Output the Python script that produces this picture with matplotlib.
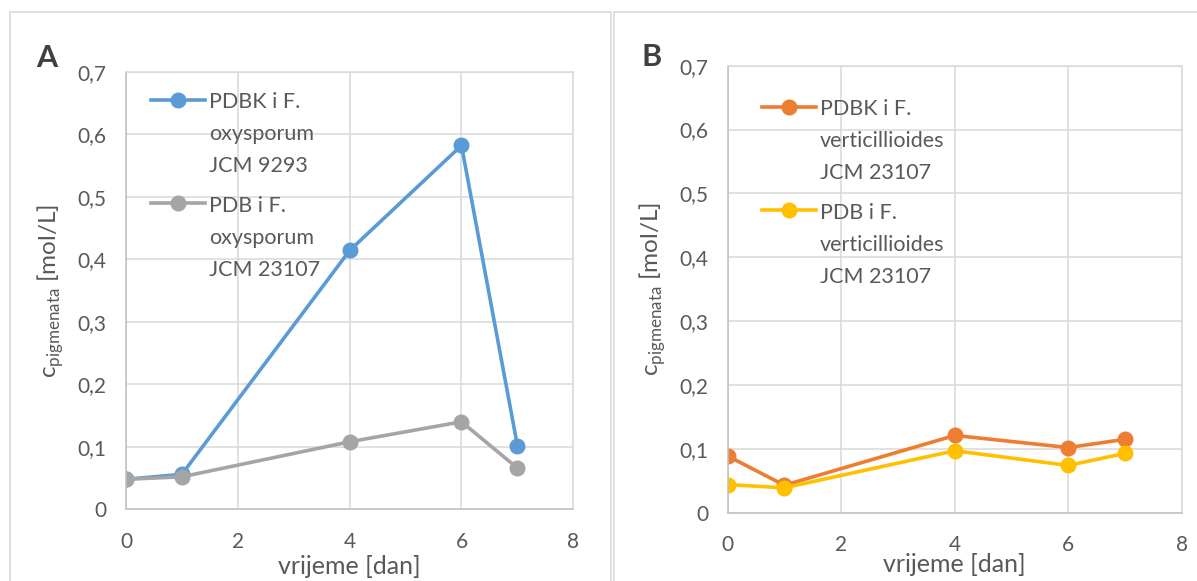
import matplotlib.pyplot as plt
from matplotlib.patches import Rectangle
from matplotlib.ticker import FuncFormatter

plt.rcParams['font.family'] = ['Lato', 'DejaVu Sans']

days = [0, 1, 4, 6, 7]

# panel A - F. oxysporum
pdbk_oxy = [0.048, 0.056, 0.414, 0.582, 0.102]
pdb_oxy = [0.048, 0.052, 0.108, 0.140, 0.066]
# panel B - F. verticillioides
pdbk_ver = [0.089, 0.043, 0.121, 0.102, 0.115]
pdb_ver = [0.044, 0.039, 0.097, 0.074, 0.093]

labels_a = ['PDBK i F.\noxysporum\nJCM 9293', 'PDB i F.\noxysporum\nJCM 23107']
labels_b = ['PDBK i F.\nverticillioides\nJCM 23107', 'PDB i F.\nverticillioides\nJCM 23107']

txt = '#595959'
grid = '#D9D9D9'

fig = plt.figure(figsize=(11.97, 5.81), dpi=100)

# chart frames
fig.patches.append(Rectangle((10 / 1197, -0.1), 601 / 1197, 1.1 - 12 / 581, transform=fig.transFigure,
                             fill=False, edgecolor=grid, lw=1.2))
fig.patches.append(Rectangle((614 / 1197, -0.1), 0.6, 1.1 - 12 / 581, transform=fig.transFigure,
                             fill=False, edgecolor=grid, lw=1.2))

ax_a = fig.add_axes([126 / 1197, 1 - 509.3 / 581, 447.3 / 1197, 437.6 / 581])
ax_b = fig.add_axes([727.5 / 1197, 1 - 512.7 / 581, 454.5 / 1197, 447 / 581])


def comma(v, pos):
    return ('%g' % round(v, 2)).replace('.', ',')


def style(ax, letter, lx, ly, s1, s2, labels, c1, c2, xl_y, leg_xy):
    ax.plot(days, s1, color=c1, lw=2.6, marker='o', ms=10.5, label=labels[0])
    ax.plot(days, s2, color=c2, lw=2.6, marker='o', ms=10.5, label=labels[1])
    ax.set_xlim(0, 8)
    ax.set_ylim(0, 0.7)
    ax.set_xticks([0, 2, 4, 6, 8])
    ax.set_yticks([0, 0.1, 0.2, 0.3, 0.4, 0.5, 0.6, 0.7])
    ax.yaxis.set_major_formatter(FuncFormatter(comma))
    ax.grid(True, color=grid, lw=1.1)
    ax.set_axisbelow(True)
    for s in ax.spines.values():
        s.set_color(grid)
        s.set_linewidth(1.1)
    ax.spines['left'].set_color('#BFBFBF')
    ax.spines['bottom'].set_color('#BFBFBF')
    ax.tick_params(length=0, labelsize=15, labelcolor=txt)
    ax.tick_params(axis='y', pad=14)
    ax.tick_params(axis='x', pad=16)
    ax.set_xlabel('vrijeme [dan]', fontsize=18, color=txt)
    ax.xaxis.set_label_coords(0.5, xl_y)
    ax.xaxis.label.set_va('center')
    ax.set_ylabel(r'c$_{\mathregular{pigmenata}}$ [mol/L]', fontsize=17.5, color=txt, labelpad=8)
    fig.text(lx / 1197, 1 - ly / 581, letter, fontsize=22, fontweight='bold', color='#404040',
             ha='center', va='center')
    leg = ax.legend(loc='upper left', bbox_to_anchor=leg_xy, frameon=False, fontsize=15.5,
                    handlelength=2.5, handletextpad=0.2, labelspacing=0.9, labelcolor=txt)
    for t in leg.get_texts():
        t.set_linespacing(1.75)
    for col in leg._legend_handle_box.get_children():
        for item in col.get_children():
            item.align = 'top'


style(ax_a, 'A', 47, 58, pdbk_oxy, pdb_oxy, labels_a, '#5B9BD5', '#A5A5A5', -0.13, (0.012, 0.997))
style(ax_b, 'B', 652, 57, pdbk_ver, pdb_ver, labels_b, '#ED7D31', '#FFC000', -0.117, (0.033, 0.968))

fig.savefig('out.png', dpi=100)
